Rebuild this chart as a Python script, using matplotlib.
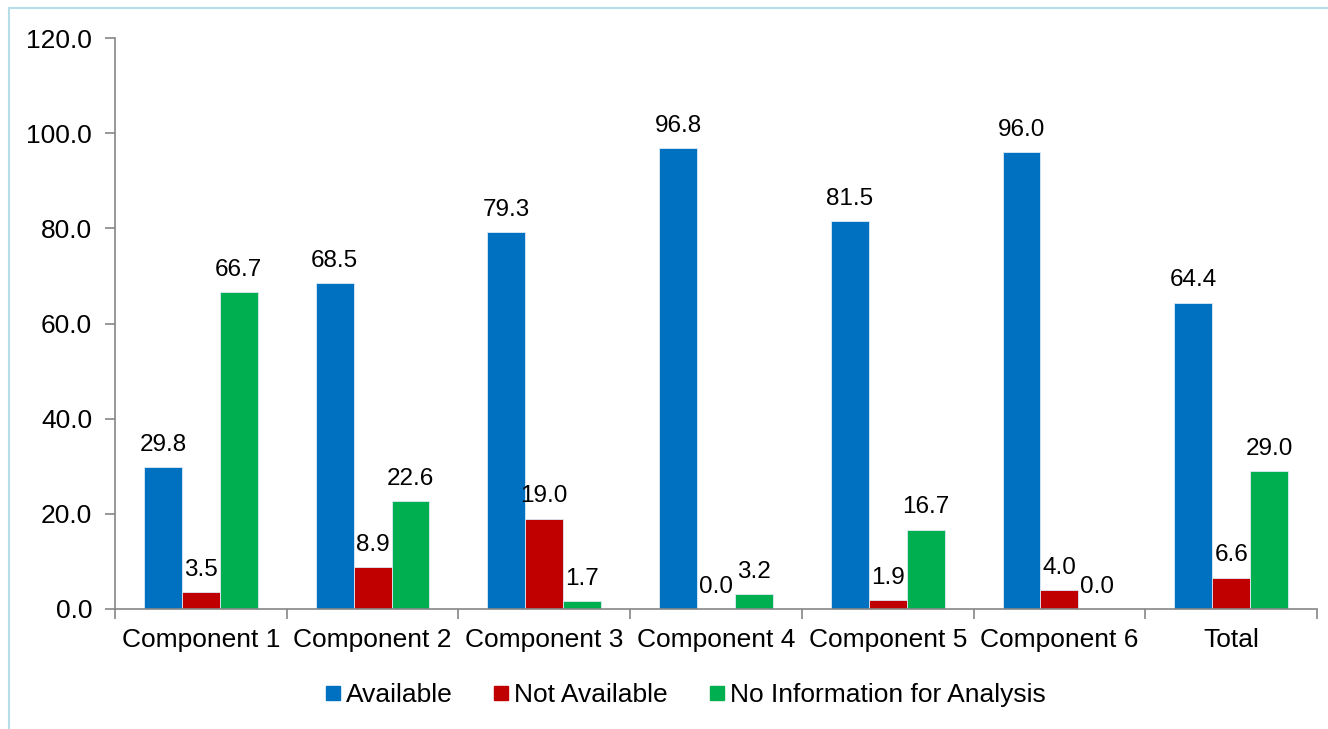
import matplotlib
matplotlib.use("Agg")
import matplotlib.pyplot as plt
import numpy as np
from matplotlib.patches import Rectangle
from matplotlib.lines import Line2D

categories = ["Component 1", "Component 2", "Component 3", "Component 4",
              "Component 5", "Component 6", "Total"]
available = [29.8, 68.5, 79.3, 96.8, 81.5, 96.0, 64.4]
not_available = [3.5, 8.9, 19.0, 0.0, 1.9, 4.0, 6.6]
no_info = [66.7, 22.6, 1.7, 3.2, 16.7, 0.0, 29.0]
series_names = ["Available", "Not Available", "No Information for Analysis"]
colors = ["#0070C0", "#C00000", "#00B050"]
yticks = [0, 20, 40, 60, 80, 100, 120]

plt.rcParams['font.family'] = ['Liberation Sans', 'DejaVu Sans']

fig = plt.figure(figsize=(13.28, 7.29), dpi=100)
fig.patches.append(Rectangle((9/1328, -0.1), 1.2, 1 - 8/729 + 0.1,
                             transform=fig.transFigure, fill=False,
                             edgecolor="#B7DDE8", linewidth=1.5))
ax = fig.add_axes([115/1328, 1 - 609/729, (1317 - 115)/1328, (609 - 38)/729])

x = np.arange(len(categories))
w = 0.221
data = [available, not_available, no_info]
for i, (vals, c, name) in enumerate(zip(data, colors, series_names)):
    pos = x + (i - 1) * w
    ax.bar(pos, vals, width=w, color=c, edgecolor="#DDEBF7", linewidth=0.6, label=name)
    for p, v in zip(pos, vals):
        ax.annotate(f"{v:.1f}", (p, v), xytext=(0, 8), textcoords="offset points",
                    ha="center", va="bottom", fontsize=17.5, color="black")

ax.set_xlim(-0.5, len(categories) - 0.5)
ax.set_ylim(0, 120)
ax.set_yticks(yticks)
ax.set_yticklabels([f"{t:.1f}" for t in yticks], fontsize=19)
ax.set_xticks(x)
ax.set_xticklabels(categories, fontsize=19)
ax.set_xticks(np.arange(-0.5, len(categories)), minor=True)
ax.tick_params(axis="x", which="major", length=0, pad=14)
ax.tick_params(axis="x", which="minor", length=7, color="#868686", width=1.2)
ax.tick_params(axis="y", length=7, color="#868686", width=1.2, pad=9.5)
for s in ["top", "right"]:
    ax.spines[s].set_visible(False)
for s in ["left", "bottom"]:
    ax.spines[s].set_color("#868686")
    ax.spines[s].set_linewidth(1.2)

handles = [Line2D([], [], marker="s", linestyle="none", markersize=10.5,
                  markerfacecolor=c, markeredgecolor=c) for c in colors]
fig.legend(handles, series_names, loc="center", bbox_to_anchor=(0.514, 0.046),
           ncol=3, frameon=False, fontsize=19, handletextpad=0.0,
           columnspacing=1.35, handlelength=1.0)

fig.savefig("out.png", dpi=100)
